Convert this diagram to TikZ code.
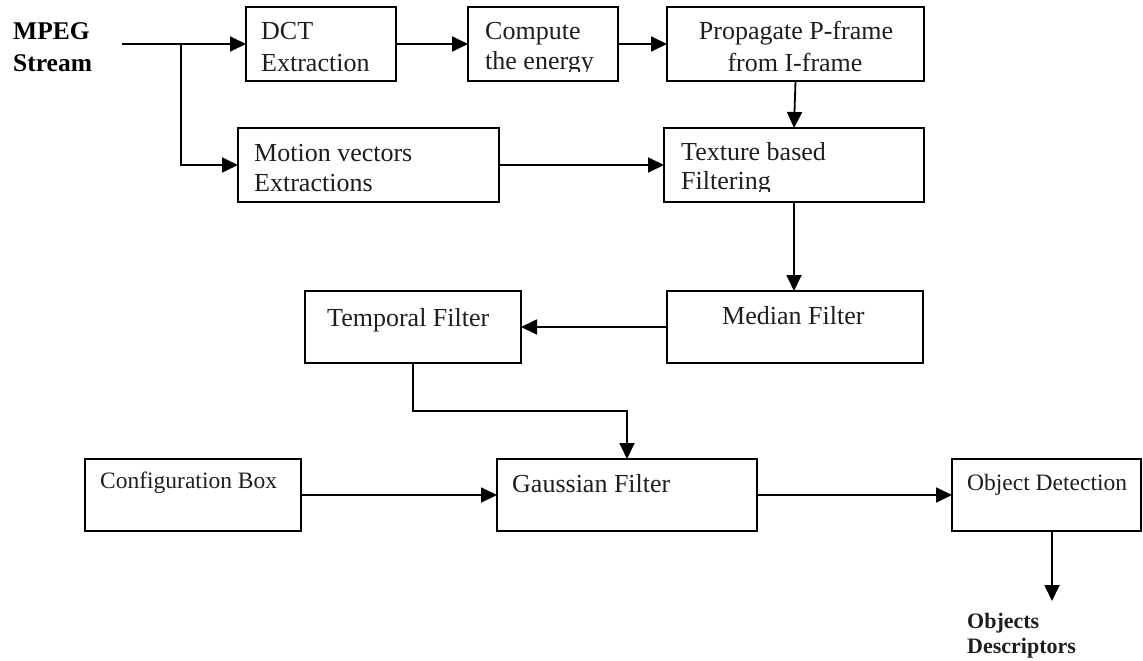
\documentclass[tikz,border=0pt]{standalone}
\usepackage{fontspec}
\setmainfont{Liberation Serif}
\usetikzlibrary{arrows.meta}
\definecolor{ink}{HTML}{1E1E1E}
\begin{document}
\begin{tikzpicture}[x=1pt,y=-1pt,
  box/.style={draw=black, line width=1.6pt, inner sep=0pt, outer sep=0pt},
  arr/.style={line width=1.8pt, -{Triangle[length=16pt,width=15pt]}},
  txt/.style={anchor=base west, inner sep=0pt, text=ink, font=\fontsize{26}{30}\selectfont},
  ctxt/.style={anchor=base, inner sep=0pt, text=ink, font=\fontsize{26}{30}\selectfont},
  stxt/.style={anchor=base west, inner sep=0pt, text=ink, font=\fontsize{23.5}{27}\selectfont},
  btxt/.style={anchor=base west, inner sep=0pt, text=black, font=\bfseries\fontsize{25.5}{30}\selectfont},
  b2txt/.style={anchor=base west, inner sep=0pt, text=ink, font=\bfseries\fontsize{22}{25}\selectfont}]
\useasboundingbox (0,0) rectangle (1143,661);

% boxes
\node[box, minimum width=150pt, minimum height=74pt] (dct) at (321,44) {};
\node[box, minimum width=150pt, minimum height=74pt] (comp) at (543,44) {};
\node[box, minimum width=257pt, minimum height=74pt] (prop) at (795.5,44) {};
\node[box, minimum width=261pt, minimum height=74pt] (motion) at (368.5,165) {};
\node[box, minimum width=260pt, minimum height=74pt] (texture) at (794,165) {};
\node[box, minimum width=256pt, minimum height=72pt] (median) at (795,327) {};
\node[box, minimum width=216pt, minimum height=72pt] (temporal) at (413,327) {};
\node[box, minimum width=216pt, minimum height=72pt] (config) at (193,495) {};
\node[box, minimum width=260pt, minimum height=72pt] (gauss) at (627,495) {};
\node[box, minimum width=189pt, minimum height=72pt] (obj) at (1046.5,495) {};

% texts
\node[btxt] (mpeg1) at (13,40) {MPEG};
\node[btxt] (mpeg2) at (13,71) {Stream};
\node[txt] (dct1) at (261,40) {DCT};
\node[txt] (dct2) at (261,71) {Extraction};
\begin{scope}
  \clip (468,8) rectangle (618,71.5);
  \node[txt] (comp1) at (485,40) {Compute};
  \node[txt] (comp2) at (485,70) {the energy};
\end{scope}
\node[ctxt] (prop1) at (796,40) {Propagate P-frame};
\node[ctxt] (prop2) at (795,71) {from I-frame};
\node[txt] (mot1) at (254,161) {Motion vectors};
\node[txt] (mot2) at (254,191) {Extractions};
\begin{scope}
  \clip (664,128) rectangle (924,191);
  \node[txt] (tex1) at (681,160) {Texture based};
  \node[txt] (tex2) at (681,189) {Filtering};
\end{scope}
\node[txt] (medt) at (722,324) {Median Filter};
\node[txt] (tempt) at (327,326) {Temporal Filter};
\node[stxt] (conft) at (100,488) {Configuration Box};
\node[txt] (gausst) at (512,492) {Gaussian Filter};
\node[stxt] (objt) at (967,490) {Object Detection};
\node[b2txt] (desc1) at (967,628) {Objects};
\node[b2txt] (desc2) at (967,653) {Descriptors};

% connectors
\coordinate (mpegout) at (122,44);
\coordinate (split) at (181,44);
\coordinate (descend) at (1052,601);
\draw[arr] (mpegout) -- (dct.west);
\draw[arr] (split) |- (motion.west);
\draw[arr] (dct.east) -- (comp.west);
\draw[arr] (comp.east) -- (prop.west);
\draw[arr] (prop.south) -- (texture.north);
\draw[arr] (motion.east) -- (motion.east -| texture.west);
\draw[arr] (texture.south) -- (texture.south |- median.north);
\draw[arr] (median.west) -- (median.west -| temporal.east);
\draw[arr] (temporal.south) -- ++(0,48) -| (gauss.north);
\draw[arr] (config.east) -- (config.east -| gauss.west);
\draw[arr] (gauss.east) -- (gauss.east -| obj.west);
\draw[arr] (descend |- obj.south) -- (descend);
\end{tikzpicture}
\end{document}
